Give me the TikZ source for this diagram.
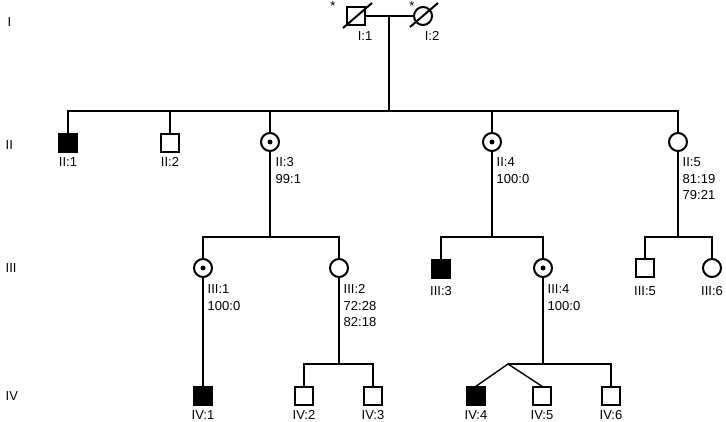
\documentclass[tikz,border=0pt]{standalone}
\usepackage{fontspec}
\setmainfont{Liberation Sans}
\begin{document}
\begin{tikzpicture}[x=1pt,y=-1pt,line width=1.4pt,
    every node/.style={inner sep=0pt,font=\fontsize{13}{16.5}\selectfont},
    male/.style={draw,rectangle,minimum size=17.5pt,line width=2pt,fill=white},
    female/.style={draw,circle,minimum size=18pt,line width=2pt,fill=white},
    affected/.style={fill=black},
    carrier/.style={path picture={\fill[black] (path picture bounding box.center) circle (2.5pt);}},
    tag/.style={anchor=base},
    note/.style={anchor=north west,align=left},
    slash/.style={line width=2pt}]
  \useasboundingbox (0,0) rectangle (726,422);
  % generations
  \path
    (7,22) node[anchor=west] (g1){I}
    (5,145) node[anchor=west] (g2){II}
    (5,268) node[anchor=west] (g3){III}
    (5,396) node[anchor=west] (g4){IV};
  % individuals
  \path
    (356,16) node[male] (i1){}
    (423,16) node[female] (i2){}
    (68,143) node[male,affected] (ii1){}
    (170,143) node[male] (ii2){}
    (270,142) node[female,carrier] (ii3){}
    (492,142) node[female,carrier] (ii4){}
    (678,142) node[female] (ii5){}
    (203,268) node[female,carrier] (iii1){}
    (339,268) node[female] (iii2){}
    (441,269) node[male,affected] (iii3){}
    (543,268) node[female,carrier] (iii4){}
    (645,268) node[male] (iii5){}
    (712,268) node[female] (iii6){}
    (203,396) node[male,affected] (iv1){}
    (304,396) node[male] (iv2){}
    (373,396) node[male] (iv3){}
    (476,396) node[male,affected] (iv4){}
    (542,396) node[male] (iv5){}
    (611,396) node[male] (iv6){};
  % labels
  \path
    (333,6) node (a1){*}
    (412,6) node (a2){*}
    (365,41) node[tag] (i1lab){I:1}
    (432,41) node[tag] (i2lab){I:2}
    (68,167) node[tag] (ii1lab){II:1}
    (170,167) node[tag] (ii2lab){II:2}
    (275,157) node[note] (ii3lab){II:3\\99:1}
    (496,157) node[note] (ii4lab){II:4\\100:0}
    (682,157) node[note] (ii5lab){II:5\\81:19\\79:21}
    (207,284) node[note] (iii1lab){III:1\\100:0}
    (343,284) node[note] (iii2lab){III:2\\72:28\\82:18}
    (441,295) node[tag] (iii3lab){III:3}
    (547,284) node[note] (iii4lab){III:4\\100:0}
    (645,295) node[tag] (iii5lab){III:5}
    (712,295) node[tag] (iii6lab){III:6}
    (203,419) node[tag] (iv1lab){IV:1}
    (304,419) node[tag] (iv2lab){IV:2}
    (373,419) node[tag] (iv3lab){IV:3}
    (476,419) node[tag] (iv4lab){IV:4}
    (542,419) node[tag] (iv5lab){IV:5}
    (611,419) node[tag] (iv6lab){IV:6};
  % line junctions
  \coordinate (m1) at (389,16);
  \coordinate (s2l) at (68,111);
  \coordinate (s2r) at (678,111);
  \coordinate (s3a) at (270,237);
  \coordinate (s3b) at (492,237);
  \coordinate (s3c) at (678,237);
  \coordinate (s4a) at (339,364);
  \coordinate (s4b) at (543,364);
  \coordinate (tw) at (508,364);
  \begin{scope}[-]
    \draw (i1) to (i2);
    \draw (m1) to (m1 |- s2l);
    \draw (ii1) -- (s2l) -- (s2r) -- (ii5);
    \draw (ii2) to (ii2 |- s2l);
    \draw (ii3) to (ii3 |- s2l);
    \draw (ii4) to (ii4 |- s2l);
    \draw (ii3) to (s3a);
    \draw (ii4) to (s3b);
    \draw (ii5) to (s3c);
    \draw (iii1) |- (s3a) -| (iii2);
    \draw (iii3) |- (s3b) -| (iii4);
    \draw (iii5) |- (s3c) -| (iii6);
    \draw (iii1) to (iv1);
    \draw (iii2) to (s4a);
    \draw (iv2) |- (s4a) -| (iv3);
    \draw (iii4) to (s4b);
    \draw (tw) -- (s4b) -| (iv6);
    \draw (iv4.north) -- (tw) -- (iv5.north);
    \draw[slash] ([shift={(-13,12)}]i1.center) to ([shift={(16,-13)}]i1.center);
    \draw[slash] ([shift={(-13,11)}]i2.center) to ([shift={(15,-13)}]i2.center);
  \end{scope}
\end{tikzpicture}
\end{document}
